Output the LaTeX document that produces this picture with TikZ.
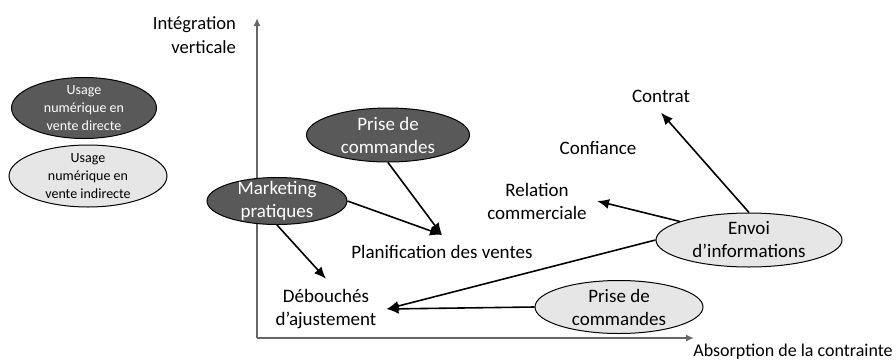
\documentclass[tikz,border=0pt]{standalone}
\usepackage{fontspec}
\setmainfont{Carlito}
\usetikzlibrary{arrows.meta,shapes.geometric}

\definecolor{usagedir}{RGB}{89,89,89}
\definecolor{usageind}{RGB}{230,230,230}

\begin{document}
\begin{tikzpicture}[x=0.5pt, y={(0pt,-0.5pt)}, >={Latex[length=6pt,width=5pt]},
	font=\fontsize{9.5}{11.5}\selectfont,
	direct/.style={ellipse, draw, line width=0.5pt, fill=usagedir, text=white,
		align=center, inner xsep=0pt, inner ysep=-2pt},
	indirect/.style={ellipse, draw, line width=0.5pt, fill=usageind,
		align=center, inner xsep=0pt, inner ysep=-2pt},
	legend/.style={font=\fontsize{7}{9}\selectfont},
	effect/.style={align=center, inner sep=5pt},
	axis/.style={draw=black!60, line width=0.8pt, -{Latex[length=4pt,width=3.5pt]}},
	link/.style={->, line width=0.8pt}]

	\useasboundingbox (0,0) rectangle (896,360);

	% Axes
	\coordinate (o)    at (257,338);
	\coordinate (ytop) at (257,18);
	\coordinate (xend) at (694,338);
	\draw [axis] (o) -- (ytop);
	\draw [axis] (o) -- (xend);
	\node [anchor=east, align=right, font=\fontsize{9.3}{12}\selectfont] (ylabel) at (243,35) {Intégration\\verticale};
	\node [font=\fontsize{9}{11}\selectfont] (xlabel) at (793,352) {Absorption de la contrainte};

	% Legend {direct, indirect}
	\node [direct, legend, minimum width=72.5pt, minimum height=30.5pt] (legdir) at (84,108) {Usage\\numérique en\\vente directe};
	\node [indirect, legend, minimum width=79pt, minimum height=31pt]   (legind) at (88,176) {Usage\\numérique en\\vente indirecte};

	% Levers
	\node [direct, minimum width=81.5pt, minimum height=27pt]   (prisedir) at (388,135) {Prise de\\commandes};
	\node [direct, minimum width=70pt, minimum height=23.5pt]   (mkt)      at (277,201) {Marketing\\pratiques};
	\node [indirect, minimum width=93pt, minimum height=27pt]   (envoi)    at (749,240) {Envoi\\d’informations};
	\node [indirect, minimum width=84pt, minimum height=26.5pt] (priseind) at (619,307) {Prise de\\commandes};

	% Effects
	\node [effect] (plan)    at (442,252) {Planification des ventes};
	\node [effect] (deb)     at (326,309) {Débouchés\\d’ajustement};
	\node [effect] (contrat) at (661,96)  {Contrat};
	\node [effect] (conf)    at (598,148) {Confiance};
	\node [effect] (rel)     at (537,201) {Relation\\commerciale};

	% Paths
	\draw [link] (prisedir.south) -- (plan.north);
	\draw [link] (mkt.east)       -- (plan.north);
	\draw [link] (mkt.south)      -- (deb.north);
	\draw [link] (envoi.north)    -- (contrat.south);
	\draw [link] (envoi.165)      -- (rel.east);
	\draw [link] (envoi.west)     -- (deb.east);
	\draw [link] (priseind.west)  -- (deb.east);

\end{tikzpicture}
\end{document}
